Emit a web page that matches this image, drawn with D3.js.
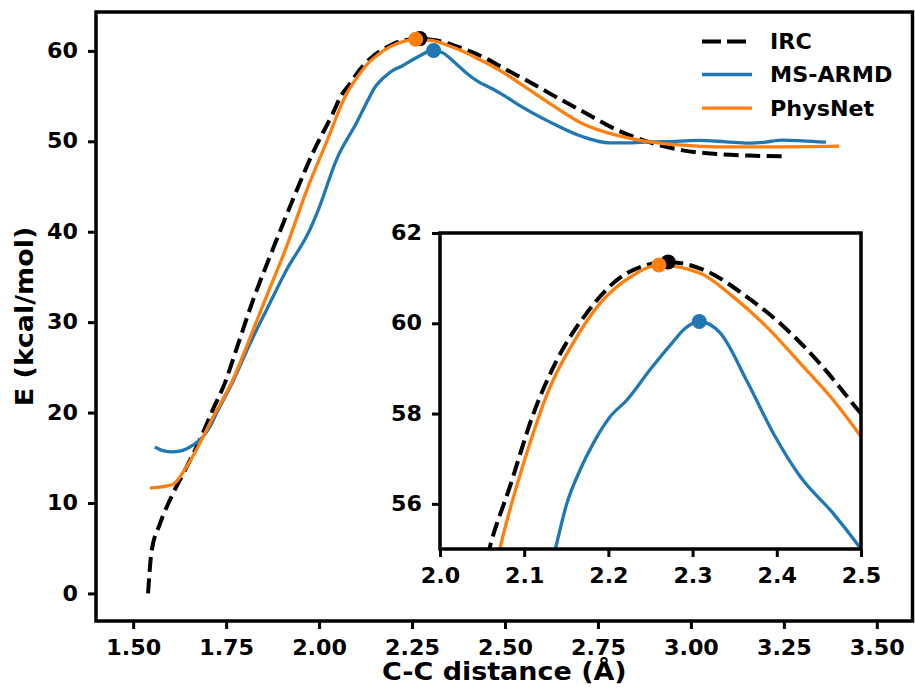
<!DOCTYPE html>
<html>
<head>
<meta charset="utf-8">
<script src="https://cdn.jsdelivr.net/npm/d3@7"></script>
<style>
  html, body { margin: 0; padding: 0; background: #fff; }
  svg { display: block; }
  text { font-family: "DejaVu Sans", sans-serif; font-weight: bold; fill: #000; }
</style>
</head>
<body>
<svg id="chart" width="915" height="698"></svg>
<script>
// ---------------- data ----------------
const ircX = [1.540,1.549,1.572,1.603,1.639,1.679,1.714,1.746,1.780,1.822,1.875,1.929,1.983,2.037,2.0586,2.083,2.111,2.139,2.174,2.222,2.271,2.317,2.364,2.408,2.451,2.500,2.560,2.620,2.709,2.799,2.888,2.978,3.067,3.157,3.255];
const ircE = [0.0,4.5,7.7,10.7,13.6,16.95,20.3,23.2,27.3,32.4,38.0,43.5,48.7,53.1,55.0,56.38,58.0,59.19,60.22,61.11,61.36,61.15,60.59,59.93,59.11,58.0,56.7,55.3,53.3,51.3,49.9,49.0,48.6,48.42,48.33];

const armdX = [1.558,1.580,1.607,1.635,1.661,1.685,1.706,1.725,1.769,1.814,1.858,1.912,1.975,2.001,2.046,2.100,2.137,2.1505,2.1663,2.182,2.202,2.222,2.2494,2.275,2.292,2.308,2.333,2.364,2.396,2.428,2.467,2.500,2.530,2.620,2.709,2.781,2.826,2.888,2.960,3.023,3.094,3.157,3.200,3.246,3.300,3.363];
const armdE = [16.2,15.8,15.66,15.85,16.4,17.2,18.4,20.0,23.5,27.6,31.3,35.75,40.2,42.75,47.9,52.0,55.0,56.0,56.75,57.34,57.93,58.30,58.97,59.55,59.9,60.04,59.78,58.74,57.56,56.6,55.79,55.0,54.2,52.15,50.5,49.83,49.83,49.94,50.0,50.1,49.94,49.8,49.9,50.13,50.05,49.9];

const physX = [1.545,1.603,1.648,1.679,1.715,1.769,1.805,1.858,1.912,1.966,2.020,2.071,2.103,2.131,2.158,2.190,2.230,2.260,2.309,2.348,2.388,2.428,2.467,2.500,2.560,2.620,2.709,2.799,2.888,2.978,3.067,3.157,3.246,3.399];
const physE = [11.65,12.0,14.3,16.6,19.5,23.7,27.3,32.8,38.3,44.5,49.9,55.0,57.12,58.6,59.56,60.44,61.07,61.29,61.11,60.59,59.92,59.11,58.30,57.49,55.85,54.2,51.95,50.68,49.94,49.57,49.39,49.39,49.39,49.46];

// transition-state markers [x, E]
const tsIRC = [2.271, 61.36];
const tsARMD = [2.308, 60.04];
const tsPhys = [2.260, 61.29];

const seriesNames = ["IRC", "MS-ARMD", "PhysNet"];
const mainXTicks = [1.50, 1.75, 2.00, 2.25, 2.50, 2.75, 3.00, 3.25, 3.50];
const mainYTicks = [0, 10, 20, 30, 40, 50, 60];
const insetXTicks = [2.0, 2.1, 2.2, 2.3, 2.4, 2.5];
const insetYTicks = [56, 58, 60, 62];
const xLabel = "C-C distance (Å)";
const yLabel = "E (kcal/mol)";

// ---------------- styling ----------------
const BLUE = "#1f77b4", ORANGE = "#ff7f0e", BLACK = "#000000";
const TICK_FS = 20.8, LABEL_FS = 24.3, LEGEND_FS = 20.8;
const TICK_SX = 1.07, LABEL_SX = 1.11;
const SPINE_W = 3.5;

const svg = d3.select("#chart");

const series = [
  { name: seriesNames[0], pts: ircX.map((x, i) => [x, ircE[i]]), color: BLACK, dash: "15,6.5", w: 4 },
  { name: seriesNames[1], pts: armdX.map((x, i) => [x, armdE[i]]), color: BLUE, dash: null, w: 3.3 },
  { name: seriesNames[2], pts: physX.map((x, i) => [x, physE[i]]), color: ORANGE, dash: null, w: 3.3 }
];
const markers = [
  { p: tsIRC, color: BLACK },
  { p: tsARMD, color: BLUE },
  { p: tsPhys, color: ORANGE }
];

function drawPanel(g, x, y, xTicks, yTicks, xFmt, yFmt, clipId) {
  const [x0, x1] = x.range();
  const [y0, y1] = y.range();
  g.append("rect").attr("x", x0).attr("y", y1).attr("width", x1 - x0).attr("height", y0 - y1).attr("fill", "#fff");
  g.append("clipPath").attr("id", clipId).append("rect")
    .attr("x", x0).attr("y", y1).attr("width", x1 - x0).attr("height", y0 - y1);
  const plot = g.append("g").attr("clip-path", `url(#${clipId})`);
  const line = d3.line().x(d => x(d[0])).y(d => y(d[1])).curve(d3.curveMonotoneX);
  series.forEach(s => {
    plot.append("path").datum(s.pts)
      .attr("d", line)
      .attr("fill", "none")
      .attr("stroke", s.color)
      .attr("stroke-width", s.w)
      .attr("stroke-dasharray", s.dash)
      .attr("stroke-linejoin", "round");
  });
  markers.forEach(m => {
    plot.append("circle").attr("cx", x(m.p[0])).attr("cy", y(m.p[1])).attr("r", 7.5).attr("fill", m.color);
  });
  const xAxis = d3.axisBottom(x).tickValues(xTicks).tickFormat(xFmt).tickSize(8).tickPadding(11);
  const yAxis = d3.axisLeft(y).tickValues(yTicks).tickFormat(yFmt).tickSize(8).tickPadding(10);
  const gx = g.append("g").attr("transform", `translate(0,${y0})`).call(xAxis);
  const gy = g.append("g").attr("transform", `translate(${x0},0)`).call(yAxis);
  [gx, gy].forEach(a => {
    a.select(".domain").remove();
    a.selectAll(".tick line").attr("stroke", "#000").attr("stroke-width", 3);
    a.selectAll(".tick text")
      .attr("font-size", TICK_FS).attr("font-family", "DejaVu Sans").attr("font-weight", "bold").attr("fill", "#000")
      .each(function () {
        const t = d3.select(this);
        const tx = +t.attr("x") || 0, ty = +t.attr("y") || 0;
        t.attr("x", 0).attr("y", 0).attr("transform", `translate(${tx},${ty}) scale(${TICK_SX},1)`);
      });
  });
  g.append("rect").attr("x", x0).attr("y", y1).attr("width", x1 - x0).attr("height", y0 - y1)
    .attr("fill", "none").attr("stroke", "#000").attr("stroke-width", SPINE_W);
}

// main axes
const xMain = d3.scaleLinear().domain([1.40, 3.596]).range([96, 912.5]);
const yMain = d3.scaleLinear().domain([-3.05, 64.3]).range([621, 12]);
drawPanel(svg.append("g"), xMain, yMain, mainXTicks, mainYTicks, d3.format(".2f"), d3.format("d"), "clipMain");

// axis labels
svg.append("text").attr("transform", `translate(${(96 + 912.5) / 2},680) scale(${LABEL_SX},1)`)
  .attr("text-anchor", "middle").attr("font-size", LABEL_FS).text(xLabel);
svg.append("text").attr("transform", `translate(33,${(12 + 621) / 2}) rotate(-90) scale(${LABEL_SX},1)`)
  .attr("text-anchor", "middle").attr("font-size", LABEL_FS).text(yLabel);

// legend
const leg = svg.append("g");
const legRows = [41.5, 74.5, 108.2];
series.forEach((s, i) => {
  leg.append("line").attr("x1", 702).attr("x2", 752).attr("y1", legRows[i]).attr("y2", legRows[i])
    .attr("stroke", s.color).attr("stroke-width", s.w).attr("stroke-dasharray", s.dash ? "19,6" : null);
  leg.append("text").attr("transform", `translate(770,${legRows[i]}) scale(${TICK_SX},1)`).attr("dy", "0.36em")
    .attr("font-size", LEGEND_FS).text(s.name);
});

// inset axes
const xIn = d3.scaleLinear().domain([2.0, 2.5]).range([440, 861]);
const yIn = d3.scaleLinear().domain([55, 62]).range([549, 233]);
drawPanel(svg.append("g"), xIn, yIn, insetXTicks, insetYTicks, d3.format(".1f"), d3.format("d"), "clipInset");
</script>
</body>
</html>
